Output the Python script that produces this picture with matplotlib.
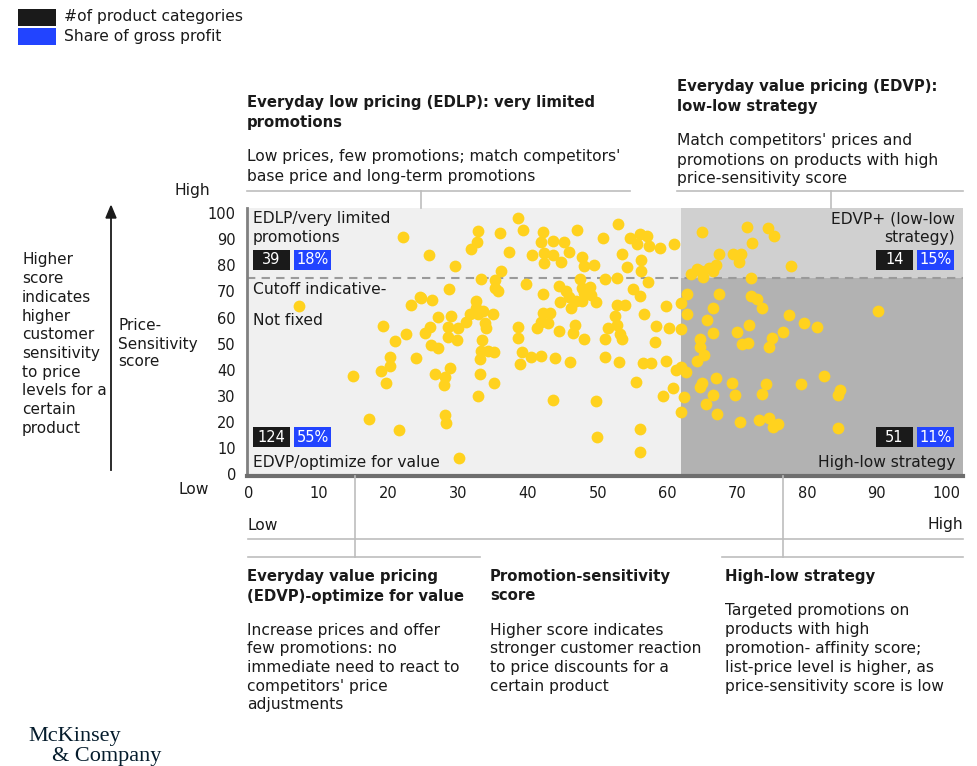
import matplotlib
matplotlib.use("Agg")
import matplotlib.pyplot as plt
from matplotlib.patches import Rectangle

plt.rcParams['font.family'] = ['DejaVu Sans']

# promotion-sensitivity score (x) and price-sensitivity score (y)
promo_score = [
    22.1, 7.2, 23.2, 24.5, 19.2, 22.5, 20.9, 20.2, 24.0, 18.9, 20.2, 14.9, 19.7, 17.2, 21.5,
    38.5, 32.9, 39.3, 42.2, 47.1, 36.0, 32.7, 41.9, 43.6, 45.1, 31.9, 37.3, 25.8, 40.6, 42.3,
    43.6, 45.9, 47.8, 42.3, 44.8, 48.1, 29.6, 36.2, 33.3, 35.3, 39.7, 44.5, 47.5, 28.7, 35.3,
    35.7, 47.8, 45.5, 42.2, 45.9, 48.1, 24.7, 26.3, 32.6, 44.6, 46.9, 47.8, 46.2, 32.6, 33.6,
    31.7, 32.9, 35.0, 42.2, 43.2, 27.1, 29.0, 31.1, 33.9, 34.0, 41.8, 42.9, 41.3, 46.8, 38.5,
    26.0, 28.6, 30.0, 25.3, 46.5, 44.5, 38.6, 28.6, 29.8, 33.4, 48.1, 26.1, 27.1, 33.3, 34.3,
    35.2, 39.2, 33.1, 40.5, 41.9, 43.9, 46.1, 38.9, 28.8, 26.7, 28.1, 33.1, 28.0, 35.2, 32.9,
    43.6, 28.1, 28.3, 30.1,
    52.9, 50.8, 54.7, 56.1, 57.1, 55.7, 57.4, 59.0, 61.0, 65.0, 71.4, 74.5, 75.3, 72.2, 53.5,
    67.4, 69.4, 70.6, 70.3, 56.2, 49.5, 54.2, 56.2, 64.3, 65.9, 66.9, 66.6, 64.8, 63.4, 65.1,
    72.0, 51.1, 52.8, 57.2, 48.9, 55.1, 56.0, 49.1, 49.8, 62.8, 67.4, 72.0, 72.9, 62.0, 73.6,
    52.7, 53.9, 59.8, 66.6, 56.7, 52.5, 62.8, 65.7, 51.5, 52.8, 58.4, 60.3, 62.0, 71.7, 66.6,
    70.0, 53.2, 53.5, 51.1, 58.2, 64.7, 75.0, 70.7, 71.6, 74.6, 64.7, 65.3, 51.1, 53.1, 56.5,
    57.7, 59.8, 61.3, 62.0, 62.6, 64.3, 55.5, 60.8, 59.4, 62.4, 64.7, 65.0, 66.9, 69.3, 74.2,
    66.6, 69.7, 73.6, 49.8, 65.6, 67.1, 62.0, 70.4, 73.2, 74.6, 75.2, 75.8, 56.1, 49.9, 56.0,
    77.8, 90.2, 77.5, 79.6, 81.5, 76.6, 82.4, 79.1, 84.8, 84.4, 84.4,
]
price_score = [
    90.8, 64.4, 64.8, 67.9, 56.8, 53.7, 51.1, 44.9, 44.6, 39.6, 41.5, 37.7, 35.0, 21.2, 17.0,
    98.1, 93.1, 93.5, 92.7, 93.5, 92.4, 88.9, 88.9, 89.3, 88.9, 86.2, 85.1, 83.9, 83.9, 84.7,
    83.9, 85.1, 83.2, 80.9, 81.3, 79.7, 79.7, 77.8, 74.8, 74.4, 72.8, 72.1, 74.8, 70.9, 71.3,
    70.2, 71.3, 70.2, 69.0, 67.9, 69.4, 67.5, 66.7, 66.3, 66.0, 66.3, 66.3, 63.7, 63.7, 62.5,
    61.4, 61.4, 61.4, 61.8, 61.8, 60.2, 60.6, 58.3, 57.9, 56.0, 58.3, 57.9, 56.0, 57.2, 56.4,
    56.4, 56.4, 56.0, 54.1, 54.1, 54.9, 52.2, 52.6, 51.4, 51.4, 51.8, 49.5, 48.4, 47.2, 47.2,
    46.8, 46.8, 44.2, 44.9, 45.3, 44.6, 43.0, 42.3, 40.7, 38.4, 37.3, 38.4, 34.2, 35.0, 30.0,
    28.5, 22.8, 19.7, 6.3,
    95.8, 90.4, 90.4, 92.0, 91.2, 88.1, 87.4, 86.6, 88.1, 92.7, 94.6, 94.3, 91.2, 88.5, 84.3,
    84.3, 84.3, 84.3, 81.3, 82.0, 80.1, 79.3, 77.8, 78.6, 79.0, 80.1, 77.8, 77.8, 76.7, 75.5,
    75.1, 74.8, 75.1, 73.6, 71.7, 70.9, 68.3, 68.6, 66.0, 69.0, 69.0, 68.3, 67.1, 65.6, 63.7,
    64.8, 64.8, 64.4, 63.7, 61.4, 60.6, 61.4, 59.1, 56.0, 57.2, 56.8, 56.0, 55.6, 57.2, 54.1,
    54.5, 53.7, 51.8, 51.8, 50.7, 51.8, 52.2, 49.9, 50.3, 48.8, 48.8, 45.7, 44.9, 43.0, 42.6,
    42.6, 43.4, 40.0, 41.1, 39.2, 43.4, 35.4, 33.1, 30.0, 29.6, 33.5, 35.0, 36.9, 35.0, 34.6,
    30.4, 30.4, 30.8, 28.1, 27.0, 23.1, 23.9, 20.1, 20.8, 21.6, 18.2, 19.3, 17.4, 14.3, 8.6,
    79.7, 62.5, 61.0, 57.9, 56.4, 54.5, 37.7, 34.6, 32.3, 30.4, 17.8,
]

cut_x = 61.9
cut_y = 75.1

quad_counts = ['39', '124', '14', '51']
quad_shares = ['18%', '55%', '15%', '11%']

tick_vals = list(range(0, 101, 10))

TXT = '#1a1a1a'
BLACK = '#1a1a1a'
BLUE = '#2244ff'
YELLOW = '#ffd21e'
W, H = 977, 766
FS = 11.2     # body text
FB = 10.7     # bold headings

fig = plt.figure(figsize=(W / 100, H / 100), dpi=100)


def fx(px):
    return px / W


def fy(py):
    return 1 - py / H


def lines(x, y0, rows, step=18.8, fontsize=FS, **kw):
    for i, r in enumerate(rows):
        fig.text(fx(x), fy(y0 + i * step), r, va='center', color=TXT, fontsize=fontsize, **kw)


def hline(x0, x1, y, color='#bdbdbd', lw=1.2):
    fig.add_artist(plt.Line2D([fx(x0), fx(x1)], [fy(y), fy(y)], color=color, lw=lw))


def vline(x, y0, y1, color='#bdbdbd', lw=1.2):
    fig.add_artist(plt.Line2D([fx(x), fx(x)], [fy(y0), fy(y1)], color=color, lw=lw))


def badge(x, y, label, color):
    fig.add_artist(Rectangle((fx(x), fy(y + 20)), 37 / W, 20 / H,
                             transform=fig.transFigure, color=color, lw=0))
    fig.text(fx(x + 18.5), fy(y + 10), label, color='white', ha='center', va='center',
             fontsize=10.5)


# main plot area
ax = fig.add_axes([fx(247), fy(476), (963 - 247) / W, (476 - 208) / H])
xmin, xmax = -0.3, 102.4
ymin, ymax = -0.6, 101.9
ax.set_xlim(xmin, xmax)
ax.set_ylim(ymin, ymax)
ax.fill_between([xmin, cut_x], ymin, ymax, color='#f0f0f0', lw=0, zorder=0)
ax.fill_between([cut_x, xmax], cut_y, ymax, color='#d0d0d0', lw=0, zorder=0)
ax.fill_between([cut_x, xmax], ymin, cut_y, color='#b2b2b2', lw=0, zorder=0)
ax.axhline(cut_y, color='#9a9a9a', lw=1.5, ls=(0, (4, 3)), zorder=1)
ax.scatter(promo_score, price_score, s=72, color=YELLOW, lw=0, zorder=3)

ax.set_xticks(tick_vals)
ax.set_yticks(tick_vals)
ax.tick_params(length=0, labelsize=10.5, labelcolor=TXT)
ax.tick_params(axis='y', pad=8)
ax.tick_params(axis='x', pad=7)
for s in ['top', 'right']:
    ax.spines[s].set_visible(False)
ax.spines['left'].set_color('#808080')
ax.spines['left'].set_linewidth(2)
ax.spines['bottom'].set_color('#6e6e6e')
ax.spines['bottom'].set_linewidth(3)

# legend
fig.add_artist(Rectangle((fx(18), fy(26)), 38 / W, 17 / H, transform=fig.transFigure,
                         color=BLACK, lw=0))
fig.add_artist(Rectangle((fx(18), fy(45)), 38 / W, 17 / H, transform=fig.transFigure,
                         color=BLUE, lw=0))
lines(64, 17, ['#of product categories', 'Share of gross profit'], step=19)

# top annotations
lines(247, 102, ['Everyday low pricing (EDLP): very limited', 'promotions'], step=20,
      fontsize=FB, fontweight='bold')
lines(247, 157, ["Low prices, few promotions; match competitors'",
                 'base price and long-term promotions'], step=19)
hline(247, 630, 191)
vline(421, 191, 208)

lines(677, 87, ['Everyday value pricing (EDVP):', 'low-low strategy'], step=19.5,
      fontsize=FB, fontweight='bold')
lines(677, 141, ["Match competitors' prices and", 'promotions on products with high',
                 'price-sensitivity score'], step=19)
hline(677, 963, 191)
vline(831, 191, 208)

# y axis side
fig.text(fx(210), fy(190), 'High', ha='right', va='center', fontsize=FS, color=TXT)
fig.text(fx(209), fy(490), 'Low', ha='right', va='center', fontsize=FS, color=TXT)
fig.add_artist(plt.Line2D([fx(111), fx(111)], [fy(470), fy(215)], color=TXT, lw=1.3))
fig.add_artist(plt.Polygon([[fx(106), fy(218)], [fx(116), fy(218)], [fx(111), fy(206)]],
                           closed=True, color=TXT, transform=fig.transFigure))
lines(22, 260, ['Higher', 'score', 'indicates', 'higher', 'customer', 'sensitivity',
                'to price', 'levels for a', 'certain', 'product'], step=18.7, fontsize=11)
lines(118, 326, ['Price-', 'Sensitivity', 'score'], step=18, fontsize=11)

# quadrant labels
lines(253, 219, ['EDLP/very limited', 'promotions'], step=18.5)
badge(253, 250, quad_counts[0], BLACK)
badge(294, 250, quad_shares[0], BLUE)
lines(253, 290, ['Cutoff indicative-'])
lines(253, 321, ['Not fixed'])
badge(253, 427, quad_counts[1], BLACK)
badge(294, 427, quad_shares[1], BLUE)
lines(253, 463, ['EDVP/optimize for value'])

fig.text(fx(955), fy(219), 'EDVP+ (low-low', ha='right', va='center', fontsize=FS, color=TXT)
fig.text(fx(955), fy(237.5), 'strategy)', ha='right', va='center', fontsize=FS, color=TXT)
badge(876, 250, quad_counts[2], BLACK)
badge(917, 250, quad_shares[2], BLUE)
badge(876, 427, quad_counts[3], BLACK)
badge(917, 427, quad_shares[3], BLUE)
fig.text(fx(955), fy(463), 'High-low strategy', ha='right', va='center', fontsize=FS,
         color=TXT)

# x axis side
lines(248, 525, ['Low'])
fig.text(fx(963), fy(525), 'High', ha='right', va='center', fontsize=FS, color=TXT)
hline(248, 963, 539)
vline(355, 476, 557)
vline(783, 476, 557)
hline(248, 480, 557)
hline(722, 963, 557)

# bottom annotations
lines(247, 577, ['Everyday value pricing', '(EDVP)-optimize for value'], step=19,
      fontsize=FB, fontweight='bold')
lines(247, 630, ['Increase prices and offer', 'few promotions: no',
                 'immediate need to react to', "competitors' price", 'adjustments'],
      step=18.75)
lines(490, 577, ['Promotion-sensitivity', 'score'], step=19, fontsize=FB, fontweight='bold')
lines(490, 630, ['Higher score indicates', 'stronger customer reaction',
                 'to price discounts for a', 'certain product'], step=18.75)
lines(725, 577, ['High-low strategy'], fontsize=FB, fontweight='bold')
lines(725, 611, ['Targeted promotions on', 'products with high',
                 'promotion- affinity score;', 'list-price level is higher, as',
                 'price-sensitivity score is low'], step=18.75)

# logo
fig.text(fx(28), fy(737), 'McKinsey', va='center', fontsize=16, color='#051c2c',
         family='Liberation Serif')
fig.text(fx(52), fy(757), '& Company', va='center', fontsize=16, color='#051c2c',
         family='Liberation Serif')

fig.savefig('out.png', dpi=100)
